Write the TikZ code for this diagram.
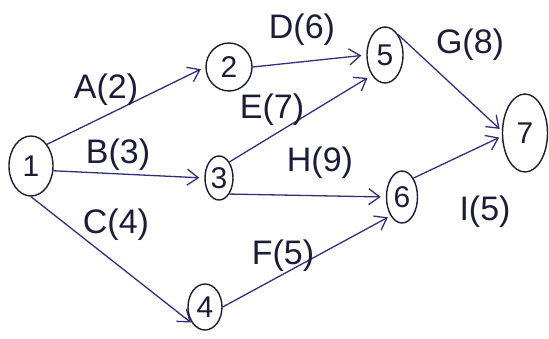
\documentclass[tikz,border=0pt]{standalone}
\usepackage{fontspec}
\setmainfont{Liberation Sans}
\usetikzlibrary{shapes.geometric,arrows.meta}
\definecolor{ink}{HTML}{30307A}
\definecolor{pen}{HTML}{1C1C38}
\tikzset{
  ev/.style={ellipse,draw=pen,line width=1.4pt,inner sep=0pt,font=\fontsize{30}{30}\selectfont,text=pen},
  act/.style={draw=ink,line width=1.3pt,shorten >=5pt,-{Straight Barb[length=11pt,width=16pt,line width=1.3pt]}},
  lab/.style={font=\fontsize{34}{34}\selectfont,text=pen,inner sep=0pt}
}
\begin{document}
\begin{tikzpicture}[x=1pt,y=-1pt]
\fill[white] (0,0) rectangle (549,338);
\useasboundingbox (0,0) rectangle (549,338);
\node[ev,minimum width=44pt,minimum height=60pt] (n1) at (31,166) {1};
\node[ev,minimum width=46pt,minimum height=48pt] (n2) at (229,67) {2};
\node[ev,minimum width=28pt,minimum height=44pt] (n3) at (219,178) {3};
\node[ev,minimum width=34pt,minimum height=46pt] (n4) at (205,307) {4};
\node[ev,minimum width=36pt,minimum height=56pt] (n5) at (385,55) {5};
\node[ev,minimum width=31pt,minimum height=52pt] (n6) at (402,197) {6};
\node[ev,minimum width=45pt,minimum height=78pt] (n7) at (525,133) {7};
\draw[act] (n1.north east) -- (n2.west);
\draw[act] (n1.-12) -- (n3.west);
\draw[act,shorten >=2pt] (n1.south) -- (n4.south west);
\draw[act] (n2.east) -- (n5.west);
\draw[act] (n3.north east) -- (n5.south west);
\draw[act] (n3.south east) -- (n6.west);
\draw[act,shorten >=3pt] (n4.east) -- (n6.south west);
\draw[act,shorten >=3pt] (n5.north east) -- (n7.175);
\draw[act,shorten >=3pt] (n6.north east) -- (n7.188);
\node[lab] (la) at (106,90) {A(2)};
\node[lab] (lb) at (118,155) {B(3)};
\node[lab] (lc) at (116,225) {C(4)};
\node[lab] (ld) at (302,30) {D(6)};
\node[lab] (le) at (272,110) {E(7)};
\node[lab] (lh) at (320,163) {H(9)};
\node[lab] (lf) at (283,256) {F(5)};
\node[lab] (lg) at (470,45) {G(8)};
\node[lab] (li) at (485,212) {I(5)};
\end{tikzpicture}
\end{document}
